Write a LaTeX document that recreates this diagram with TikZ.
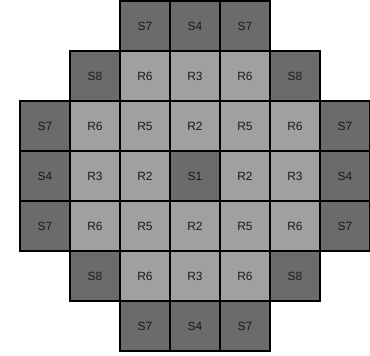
\documentclass[tikz,border=0pt]{standalone}
\usepackage{fontspec}
\setmainfont{Liberation Sans}
\definecolor{sitedark}{RGB}{107,107,107}
\definecolor{sitelight}{RGB}{160,160,160}
\tikzset{
  cell/.style={draw=black, line width=0.6pt, rectangle, minimum size=1cm, inner sep=0pt, font=\fontsize{6.8}{8}\selectfont, text=black!90},
  scell/.style={cell, fill=sitedark},
  rcell/.style={cell, fill=sitelight}
}

\begin{document}
\begin{tikzpicture}
  \useasboundingbox (-0.9,0.52) rectangle (6.5,-6.58);

  % outer ring (S sites)
  \foreach \c/\r/\lab in {2/0/S7, 3/0/S4, 4/0/S7,
                          1/1/S8, 5/1/S8,
                          0/2/S7, 6/2/S7,
                          0/3/S4, 3/3/S1, 6/3/S4,
                          0/4/S7, 6/4/S7,
                          1/5/S8, 5/5/S8,
                          2/6/S7, 3/6/S4, 4/6/S7}
    \node[scell] (c\c\r) at (\c,-\r) {\lab};

  % inner rings (R sites)
  \foreach \c/\r/\lab in {2/1/R6, 3/1/R3, 4/1/R6,
                          1/2/R6, 2/2/R5, 3/2/R2, 4/2/R5, 5/2/R6,
                          1/3/R3, 2/3/R2, 4/3/R2, 5/3/R3,
                          1/4/R6, 2/4/R5, 3/4/R2, 4/4/R5, 5/4/R6,
                          2/5/R6, 3/5/R3, 4/5/R6}
    \node[rcell] (c\c\r) at (\c,-\r) {\lab};
\end{tikzpicture}
\end{document}
